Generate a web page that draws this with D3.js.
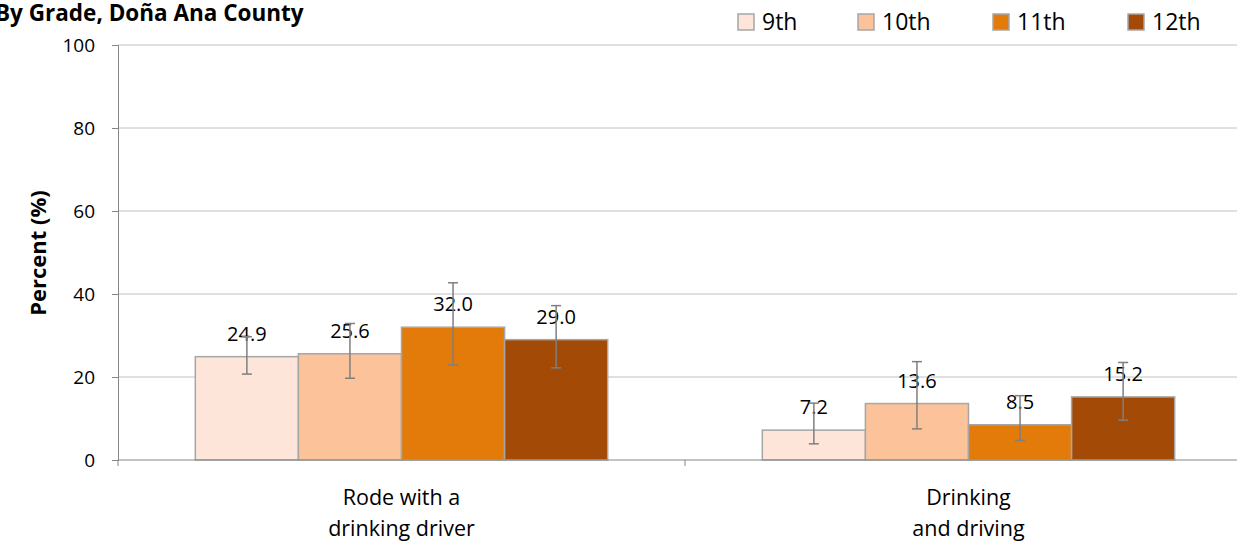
<!DOCTYPE html>
<html><head><meta charset="utf-8">
<script src="https://cdn.jsdelivr.net/npm/d3@7"></script>
<style>body{margin:0;background:#fff}svg{display:block}text{font-family:"Open Sans",Lato,sans-serif}</style>
</head><body>
<svg id="c" width="1237" height="543"></svg>
<script>
const categories = ["Rode with a|drinking driver", "Drinking|and driving"];
const grades = ["9th", "10th", "11th", "12th"];
const values = [[24.9, 25.6, 32.0, 29.0], [7.2, 13.6, 8.5, 15.2]];
const lowCI = [[20.7, 19.7, 22.9, 22.2], [3.9, 7.5, 4.7, 9.6]];
const highCI = [[29.7, 32.9, 42.7, 37.2], [13.7, 23.7, 15.5, 23.5]];
const yTicks = [0, 20, 40, 60, 80, 100];
const colors = ["#FDE5D9", "#FCC299", "#E27B0A", "#A34A06"];

(function() {
const svg = d3.select("#c");
const pLeft = 118, pRight = 1252, pTop = 45, pBottom = 460;
const y = d3.scaleLinear().domain([0, 100]).range([pBottom, pTop]);
const x0 = d3.scaleBand().domain(categories).range([pLeft, pRight]).paddingInner(0).paddingOuter(0);
const x1 = d3.scaleBand().domain(grades).range([0, x0.bandwidth()]).paddingOuter(0.75).paddingInner(0);

svg.append("g").selectAll("line").data(yTicks.filter(d => d > 0)).join("line")
  .attr("x1", pLeft).attr("x2", pRight).attr("y1", d => y(d)).attr("y2", d => y(d))
  .attr("stroke", "#C0C0C0").attr("stroke-width", 1);

const ya = svg.append("g").attr("transform", `translate(${pLeft},0)`)
  .call(d3.axisLeft(y).tickValues(yTicks).tickSize(6).tickPadding(17));
ya.select(".domain").attr("stroke", "#868686");
ya.selectAll(".tick line").attr("stroke", "#868686");
ya.selectAll(".tick text").attr("font-size", 19).attr("fill", "#000").attr("font-family", "Open Sans");

const groups = svg.append("g").selectAll("g").data(categories).join("g")
  .attr("transform", d => `translate(${x0(d)},0)`);
groups.each(function(cat, ci) {
  const g = d3.select(this);
  g.selectAll("rect").data(grades).join("rect")
    .attr("x", d => x1(d)).attr("width", x1.bandwidth())
    .attr("y", (d, i) => y(values[ci][i])).attr("height", (d, i) => y(0) - y(values[ci][i]))
    .attr("fill", (d, i) => colors[i]).attr("stroke", "#A6A6A6").attr("stroke-width", 1.5);
  g.selectAll("text.lab").data(grades).join("text").attr("class", "lab")
    .attr("x", d => x1(d) + x1.bandwidth() / 2)
    .attr("y", (d, i) => y(values[ci][i]) - 16)
    .attr("text-anchor", "middle").attr("font-size", 20).attr("fill", "#000")
    .text((d, i) => values[ci][i].toFixed(1));
  const eb = g.selectAll("g.eb").data(grades).join("g").attr("class", "eb")
    .attr("stroke", "#7F7F7F").attr("stroke-width", 1.5);
  const cx = d => x1(d) + x1.bandwidth() / 2;
  eb.append("line").attr("x1", cx).attr("x2", cx)
    .attr("y1", (d, i) => y(lowCI[ci][i])).attr("y2", (d, i) => y(highCI[ci][i]));
  eb.append("line").attr("x1", d => cx(d) - 5).attr("x2", d => cx(d) + 5)
    .attr("y1", (d, i) => y(lowCI[ci][i])).attr("y2", (d, i) => y(lowCI[ci][i]));
  eb.append("line").attr("x1", d => cx(d) - 5).attr("x2", d => cx(d) + 5)
    .attr("y1", (d, i) => y(highCI[ci][i])).attr("y2", (d, i) => y(highCI[ci][i]));
});

svg.append("line").attr("x1", pLeft).attr("x2", pRight).attr("y1", pBottom).attr("y2", pBottom).attr("stroke", "#868686");
svg.append("g").selectAll("line").data([pLeft, x0(categories[1]), pRight]).join("line")
  .attr("x1", d => d).attr("x2", d => d).attr("y1", pBottom).attr("y2", pBottom + 6).attr("stroke", "#868686");
svg.append("g").selectAll("text").data(categories).join("text")
  .attr("x", d => x0(d) + x0.bandwidth() / 2).attr("y", 505)
  .attr("text-anchor", "middle").attr("font-size", 21.5).attr("fill", "#000")
  .each(function(d) {
    const parts = d.split("|");
    const xx = d3.select(this).attr("x");
    d3.select(this).selectAll("tspan").data(parts).join("tspan")
      .attr("x", xx).attr("dy", (p, i) => i === 0 ? 0 : 31).text(p => p);
  });

svg.append("text").attr("transform", "translate(46,253) rotate(-90)")
  .attr("text-anchor", "middle").attr("font-size", 22).attr("font-weight", "bold").text("Percent (%)");

svg.append("text").attr("x", -5).attr("y", 21).attr("font-size", 22.5).attr("font-weight", "bold").text("By Grade, Doña Ana County");

const legX = [738, 858, 993, 1128];
const leg = svg.append("g").selectAll("g").data(grades).join("g")
  .attr("transform", (d, i) => `translate(${legX[i]},14)`);
leg.append("rect").attr("width", 16).attr("height", 16).attr("fill", (d, i) => colors[i]).attr("stroke", "#A6A6A6").attr("stroke-width", 1.5);
leg.append("text").attr("x", 24).attr("y", 16).attr("font-size", 23).attr("fill", "#000").text(d => d);
})();
</script>
</body></html>
